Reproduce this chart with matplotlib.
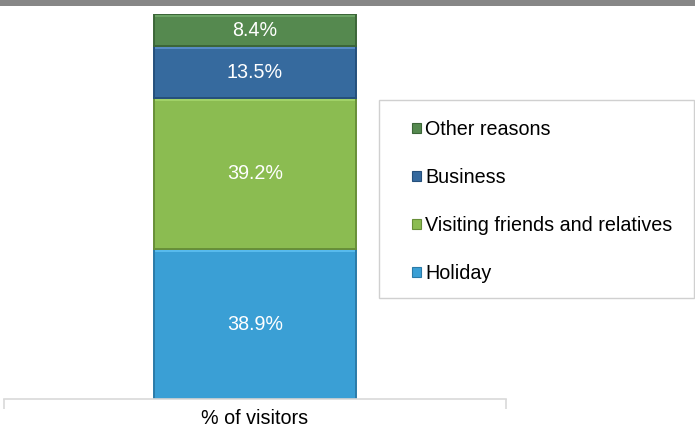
import matplotlib.pyplot as plt
from matplotlib.patches import Patch, Rectangle

plt.rcParams["font.family"] = ["Liberation Sans", "DejaVu Sans"]

# data (bottom to top of the stack)
category = "% of visitors"
reasons = ["Holiday", "Visiting friends and relatives", "Business", "Other reasons"]
shares = [38.9, 39.2, 13.5, 8.4]
labels = ["38.9%", "39.2%", "13.5%", "8.4%"]

face_colors = ["#3A9FD5", "#8BBC51", "#366A9E", "#55894F"]
edge_colors = ["#2B7BA8", "#688F38", "#25507C", "#3C6638"]
top_colors = ["#5BBDF0", "#A3D46A", "#5B8FC9", "#6EA668"]

W, H = 695, 429
FS = 14.2
fig = plt.figure(figsize=(W / 100, H / 100), dpi=100)

# grey band along the top
fig.add_artist(Rectangle((0, 1 - 6 / H), 1, 6 / H, transform=fig.transFigure,
                         facecolor="#878787", edgecolor="none"))

ax = fig.add_axes([4 / W, 30 / H, 502 / W, 385 / H])

bottom = 0.0
for val, lab, name, fc, ec, tc in zip(shares, labels, reasons,
                                      face_colors, edge_colors, top_colors):
    ax.bar(0, val, bottom=bottom, width=0.404, color=fc, edgecolor=ec,
           linewidth=1.4, label=name, zorder=2)
    # light bevel at the top of each segment
    ax.plot([-0.199, 0.199], [bottom + val - 0.45] * 2, color=tc, lw=1.3,
            solid_capstyle="butt", zorder=3)
    ax.text(0, bottom + val / 2, lab, ha="center", va="center",
            color="white", fontsize=FS, zorder=4)
    bottom += val

ax.set_xlim(-0.5, 0.5)
ax.set_ylim(0, 100)
ax.set_yticks([])
ax.set_xticks([-0.5, 0.5])
ax.set_xticklabels(["", ""])
ax.tick_params(axis="x", direction="out", length=7, color="#D9D9D9", width=1.2)
for side in ["left", "right", "top"]:
    ax.spines[side].set_visible(False)
ax.spines["bottom"].set_color("#D9D9D9")
ax.spines["bottom"].set_linewidth(1.2)
ax.set_facecolor("none")
ax.text(0, -5.0, category, ha="center", va="center", fontsize=FS,
        color="#000000")

# legend frame
fig.add_artist(Rectangle((379 / W, 1 - 298 / H), 315 / W, 198 / H,
                         transform=fig.transFigure, facecolor="white",
                         edgecolor="#D0D0D0", linewidth=1.0))

handles = [Patch(facecolor=fc, edgecolor=ec, linewidth=0.8)
           for fc, ec in zip(face_colors, edge_colors)][::-1]
fig.legend(handles, reasons[::-1], loc="upper left",
           bbox_to_anchor=(412 / W, 1 - 120 / H), frameon=False,
           borderpad=0, borderaxespad=0, fontsize=FS,
           handlelength=0.45, handleheight=0.45, handletextpad=0.22,
           labelspacing=1.47)

fig.savefig("out.png", dpi=100)
